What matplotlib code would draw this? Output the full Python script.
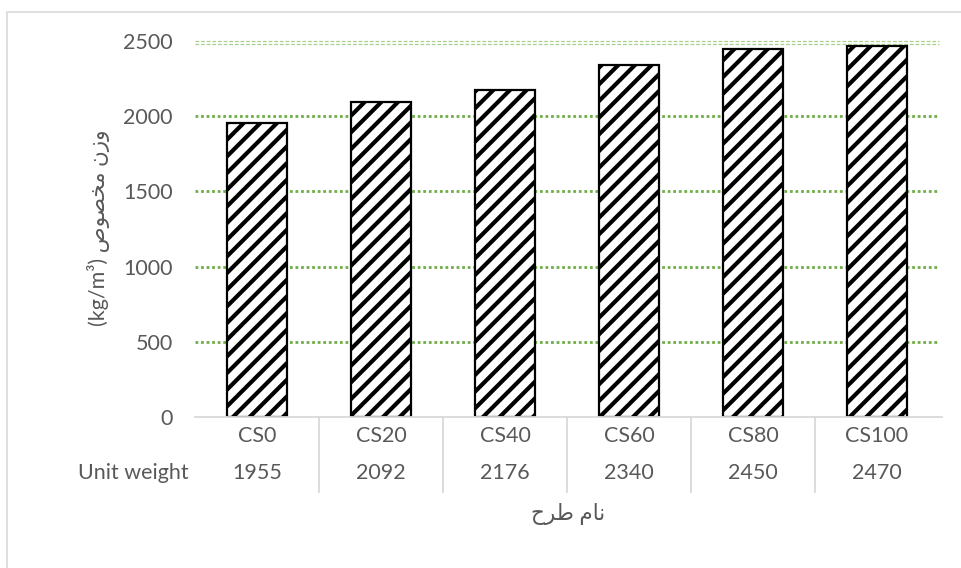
import matplotlib
matplotlib.use("Agg")
import matplotlib.pyplot as plt
import matplotlib.patches as mpatches
from matplotlib.transforms import offset_copy

plt.rcParams['font.family'] = ['Lato', 'DejaVu Sans']
plt.rcParams['hatch.linewidth'] = 3.0

# data
designs = ['CS0', 'CS20', 'CS40', 'CS60', 'CS80', 'CS100']
unit_weight = [1955, 2092, 2176, 2340, 2450, 2470]
row_label = 'Unit weight'
yticks = [0, 500, 1000, 1500, 2000, 2500]

# persian text, written in visual order with presentation forms (no shaping in mpl)
ylab = '(kg/m\u00b3) ' + '\uFEB9\uFEEE\uFEBC\uFEA8\uFEE3' + ' ' + '\uFEE5\uFEAF\uFEED'
xlab = '\uFEA1\uFEAE\uFEC3 \uFEE1\uFE8E\uFEE7'

txt = '#595959'
grid_green = '#70AD47'
fs = 15.5
W, H = 961, 568

fig = plt.figure(figsize=(W / 100, H / 100), dpi=100)
ax = fig.add_axes([195 / W, 151 / H, 744 / W, 376 / H])

x = list(range(len(designs)))
ax.bar(x, unit_weight, width=0.48, color='white', edgecolor='black',
       linewidth=1.6, hatch='//', zorder=3)

ax.set_xlim(-0.5, len(designs) - 0.5)
ax.set_ylim(0, 2500)
ax.set_yticks(yticks)
ax.set_yticklabels([str(t) for t in yticks], color=txt, fontsize=fs)
ax.tick_params(axis='y', length=0, pad=16)
ax.set_xticks([])
for s in ax.spines.values():
    s.set_visible(False)

# gridlines
for t in yticks[1:-1]:
    ax.axhline(t, color=grid_green, linestyle=(0, (1, 1)), linewidth=2, zorder=1)
ya = ax.get_yaxis_transform()
for dy in (0, -3):
    ax.plot([0, 1], [2500, 2500], color='#A9D18E', linestyle=(0, (3, 1.5)),
            linewidth=0.9, zorder=1, clip_on=False,
            transform=offset_copy(ya, fig=fig, y=dy, units='dots'))

# baseline
ax.plot([0, 1.004], [0, 0], transform=ax.transAxes, color='#D9D9D9',
        linewidth=1.3, clip_on=False, zorder=4)

# data table under the axis
xt = ax.get_xaxis_transform()
for i, (d, v) in enumerate(zip(designs, unit_weight)):
    ax.text(i, -0.05, d, transform=xt, ha='center', va='center', color=txt, fontsize=fs)
    ax.text(i, -0.149, str(v), transform=xt, ha='center', va='center', color=txt, fontsize=fs)
for i in range(1, len(designs)):
    ax.plot([i - 0.5, i - 0.5], [0, -0.2], transform=xt, color='#D9D9D9',
            linewidth=1.3, clip_on=False)
ax.text(-0.009, -0.149, row_label, transform=ax.transAxes, ha='right', va='center',
        color=txt, fontsize=fs)

# axis titles
fig.text(98 / W, 1 - 228 / H, ylab, rotation=90, ha='center', va='center',
         color=txt, fontsize=fs)
fig.text(568 / W, 1 - 514 / H, xlab, ha='center', va='center', color=txt, fontsize=fs)

# chart area border
fig.patches.append(mpatches.Rectangle((7 / W, -0.1), 1.2, 1.1 - 12 / H,
                                      transform=fig.transFigure, fill=False,
                                      edgecolor='#D9D9D9', linewidth=1.2))

fig.savefig('out.png', dpi=100)
